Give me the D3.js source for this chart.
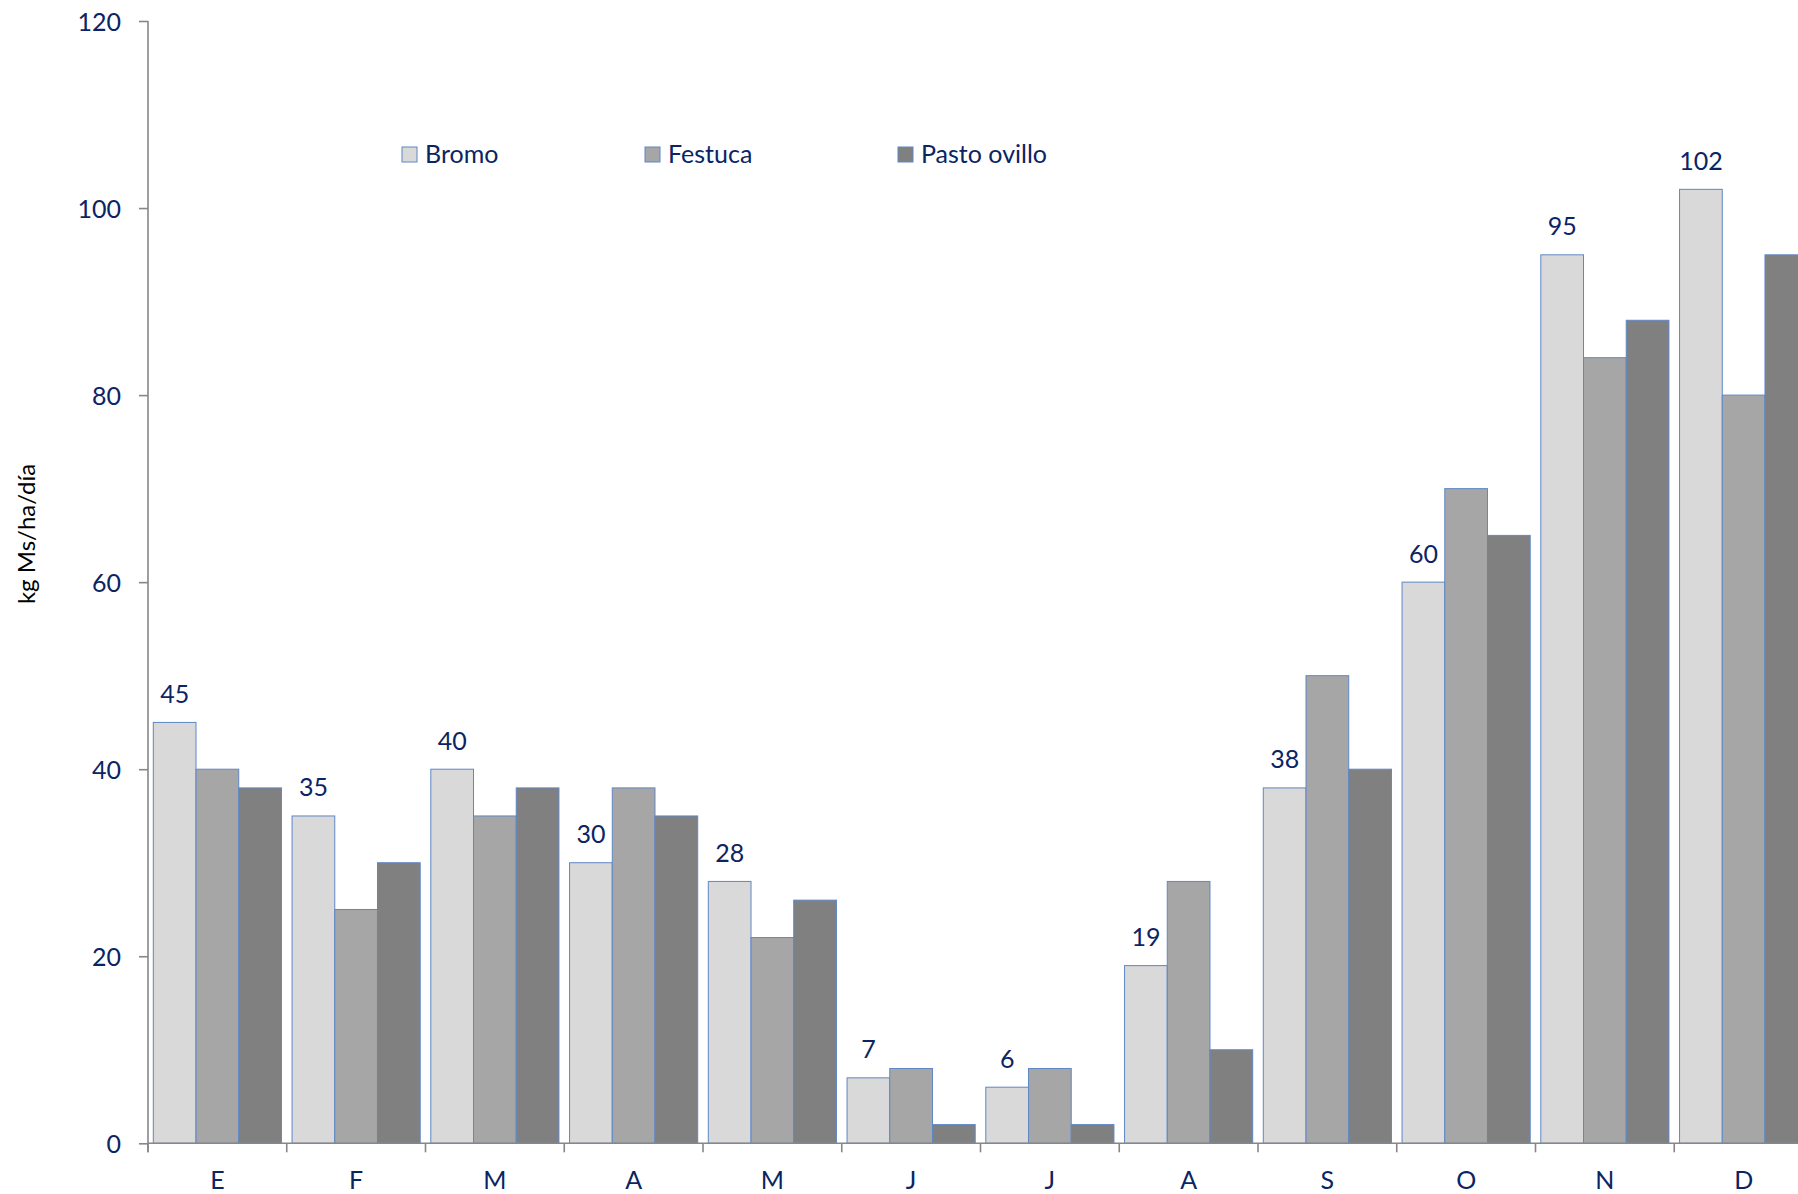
<!DOCTYPE html>
<html>
<head>
<meta charset="utf-8">
<script src="https://cdn.jsdelivr.net/npm/d3@7"></script>
<style>
  html, body { margin: 0; padding: 0; background: #fff; }
  svg { display: block; font-family: Lato, "Open Sans", sans-serif; }
</style>
</head>
<body>
<svg id="chart" width="1798" height="1194"></svg>
<script>
const months = ["E", "F", "M", "A", "M", "J", "J", "A", "S", "O", "N", "D"];
const seriesNames = ["Bromo", "Festuca", "Pasto ovillo"];
const bromo = [45, 35, 40, 30, 28, 7, 6, 19, 38, 60, 95, 102];
const festuca = [40, 25, 35, 38, 22, 8, 8, 28, 50, 70, 84, 80];
const pastoOvillo = [38, 30, 38, 35, 26, 2, 2, 10, 40, 65, 88, 95];
const yTicks = [0, 20, 40, 60, 80, 100, 120];
const yTitle = "kg Ms/ha/día";

const seriesValues = [bromo, festuca, pastoOvillo];
const colors = ["#D9D9D9", "#A6A6A6", "#808080"];
const strokeColor = "#5F87C5";
const axisColor = "#878787";
const textColor = "#0B2463";
const fontSize = 25;

const svg = d3.select("#chart");
const x0 = 148, yTop = 21, yBottom = 1143.3, band = 138.75;

const x = d3.scaleBand()
  .domain(d3.range(months.length))
  .range([x0, x0 + band * months.length])
  .paddingInner(0).paddingOuter(0);

const inset = 5.3;
const x1 = d3.scaleBand()
  .domain(d3.range(seriesNames.length))
  .range([inset, x.bandwidth() - inset])
  .padding(0);

const y = d3.scaleLinear().domain([0, 120]).range([yBottom, yTop]);

// bars
const groups = svg.append("g").selectAll("g")
  .data(months.map((m, i) => i))
  .join("g")
  .attr("transform", i => `translate(${x(i)},0)`);

groups.selectAll("rect")
  .data(i => seriesValues.map((vals, s) => ({ s, v: vals[i] })))
  .join("rect")
  .attr("x", d => x1(d.s))
  .attr("width", x1.bandwidth())
  .attr("y", d => y(d.v))
  .attr("height", d => y(0) - y(d.v))
  .attr("fill", d => colors[d.s])
  .attr("stroke", strokeColor)
  .attr("stroke-width", 1);

// data labels (Bromo)
groups.append("text")
  .attr("x", x1(0) + x1.bandwidth() / 2)
  .attr("y", i => y(bromo[i]) - 19.5)
  .attr("text-anchor", "middle")
  .attr("font-size", fontSize)
  .attr("fill", textColor)
  .text(i => bromo[i]);

// y axis
const yAxis = d3.axisLeft(y).tickValues(yTicks).tickSize(9).tickPadding(18);
const gy = svg.append("g").attr("transform", `translate(${x0},0)`).call(yAxis);
gy.select(".domain").remove();
gy.append("line").attr("x1", 0).attr("x2", 0).attr("y1", yTop).attr("y2", yBottom + 9)
  .attr("stroke", axisColor).attr("stroke-width", 1.6);
gy.selectAll(".tick line").attr("stroke", axisColor).attr("stroke-width", 1.6);
gy.selectAll(".tick text").attr("font-size", fontSize).attr("fill", textColor)
  .attr("font-family", "Lato, sans-serif").attr("dy", "0.36em");

// x axis
const gx = svg.append("g").attr("transform", `translate(0,${yBottom})`);
gx.append("line").attr("x1", x0).attr("x2", 1798).attr("y1", 0).attr("y2", 0)
  .attr("stroke", axisColor).attr("stroke-width", 1.6);
const boundaries = d3.range(months.length + 1).map(i => i < months.length ? x(i) : x(months.length - 1) + x.bandwidth());
gx.selectAll("line.tick")
  .data(boundaries)
  .join("line").attr("class", "tick")
  .attr("x1", d => d).attr("x2", d => d).attr("y1", 0).attr("y2", 9)
  .attr("stroke", axisColor).attr("stroke-width", 1.6);
const xAxis = d3.axisBottom(x).tickSize(0).tickPadding(0).tickFormat(i => months[i]);
const gxl = svg.append("g").attr("transform", `translate(0,${yBottom})`).call(xAxis);
gxl.select(".domain").remove();
gxl.selectAll(".tick text").attr("font-size", fontSize).attr("fill", textColor)
  .attr("font-family", "Lato, sans-serif").attr("dy", null).attr("y", 46);

// y title
svg.append("text")
  .attr("transform", "translate(35,534) rotate(-90)")
  .attr("text-anchor", "middle")
  .attr("font-size", 24)
  .attr("fill", "#000")
  .text(yTitle);

// legend
const legendX = [402, 645, 898];
const legend = svg.append("g").selectAll("g")
  .data(seriesNames.map((n, i) => i))
  .join("g")
  .attr("transform", i => `translate(${legendX[i]},147)`);
legend.append("rect")
  .attr("width", 15).attr("height", 15)
  .attr("fill", i => colors[i])
  .attr("stroke", strokeColor).attr("stroke-width", 1);
legend.append("text")
  .attr("x", 23).attr("y", 16)
  .attr("font-size", fontSize)
  .attr("fill", textColor)
  .text(i => seriesNames[i]);
</script>
</body>
</html>
